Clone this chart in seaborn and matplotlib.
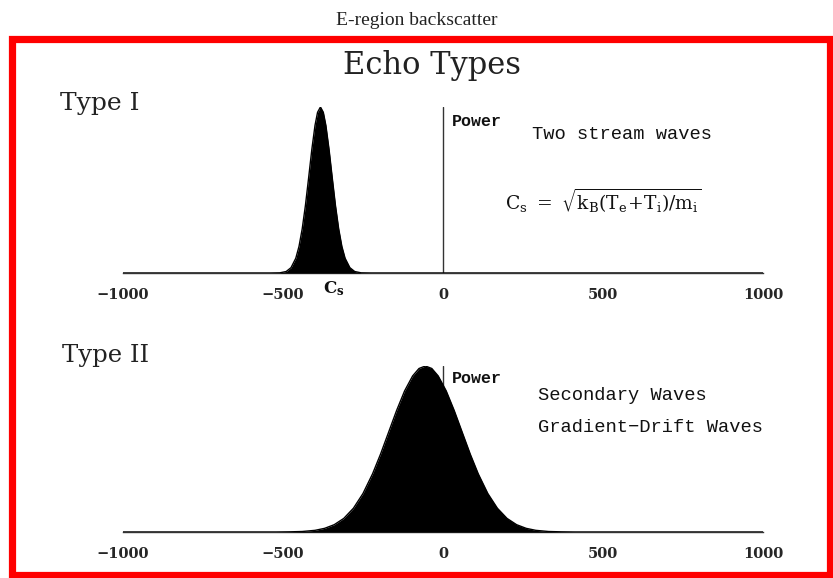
import matplotlib
matplotlib.use("Agg")
import matplotlib.pyplot as plt
from matplotlib.patches import Rectangle
import seaborn as sns

# ---- data (velocity in m/s, normalised power) ----
type1_velocity = [-1000, -540, -510, -490, -475, -460, -450, -440, -430, -420, -410, -400, -392,
                  -383, -374, -366, -356, -346, -336, -326, -316, -306, -291, -276, -256, -226, 1000]
type1_power = [0.0, 0.0, 0.001, 0.009, 0.032, 0.089, 0.160, 0.266, 0.406, 0.572, 0.743, 0.889, 0.968,
               1.0, 0.968, 0.889, 0.743, 0.572, 0.406, 0.266, 0.160, 0.089, 0.032, 0.009, 0.001, 0.0, 0.0]

type2_velocity = [-1000, -520, -480, -440, -400, -370, -340, -310, -280, -250, -220, -195, -170,
                  -145, -120, -95, -75, -55, -35, -15, 10, 35, 60, 85, 110, 140, 170, 200, 230,
                  260, 290, 330, 370, 410, 1000]
type2_power = [0.0, 0.0, 0.001, 0.003, 0.010, 0.022, 0.044, 0.082, 0.143, 0.232, 0.351, 0.470, 0.601,
               0.732, 0.850, 0.940, 0.985, 1.0, 0.985, 0.940, 0.850, 0.732, 0.601, 0.470, 0.351,
               0.232, 0.143, 0.082, 0.044, 0.022, 0.010, 0.003, 0.001, 0.0, 0.0]

major_ticks = [-1000, -500, 0, 500, 1000]
minor_ticks = list(range(-1000, 1001, 100))

title_text = "E-region backscatter"
panel_title = "Echo Types"
type_labels = ["Type I", "Type II"]
power_label = "Power"
type1_notes = ["Two stream waves"]
type2_notes = ["Secondary Waves", "Gradient\u2212Drift Waves"]
cs_label = r"$\mathbf{C_s}$"
cs_formula = r"$\mathrm{C_s}\ =\ \sqrt{\mathrm{k_B(T_e\!+\!T_i)/m_i}}$"

# ---- figure ----
sns.set_style("white")
plt.rcParams["mathtext.fontset"] = "dejavuserif"
plt.rcParams["font.family"] = ["DejaVu Serif"]

W, H = 833, 578
fig = plt.figure(figsize=(W / 100, H / 100), dpi=100)


def fx(x):
    return x / W


def fy(y):
    return 1 - y / H


def make_axes(top_px, base_px):
    ax = fig.add_axes([fx(123), fy(base_px), fx(763) - fx(123), (base_px - top_px) / H])
    ax.set_xlim(-1000, 1000)
    ax.set_ylim(0, 1.0)
    for s in ["top", "left", "right"]:
        ax.spines[s].set_visible(False)
    ax.spines["bottom"].set_linewidth(1.0)
    ax.spines["bottom"].set_color("#333333")
    ax.set_xticks(major_ticks)
    ax.set_xticks(minor_ticks, minor=True)
    ax.set_yticks([])
    ax.tick_params(axis="x", which="major", direction="in", length=4, width=1.0,
                   color="#333333", pad=10.5, labelsize=10.5)
    ax.tick_params(axis="x", which="minor", direction="in", length=2, width=0.8,
                   color="#555555")
    for lab in ax.get_xticklabels():
        lab.set_fontfamily("DejaVu Serif")
        lab.set_fontweight("bold")
    ax.set_xlabel("")
    ax.set_ylabel("")
    ax.patch.set_alpha(0)
    return ax


ax1 = make_axes(107, 273)
ax2 = make_axes(366, 532)

for ax, v, p in [(ax1, type1_velocity, type1_power), (ax2, type2_velocity, type2_power)]:
    ax.axvline(0, ymin=0, ymax=1.0, color="#333333", lw=1.0, zorder=1)
    sns.lineplot(x=v, y=p, ax=ax, color="black", lw=1.0, zorder=3)
    ax.fill_between(v, p, 0, color="black", zorder=3, lw=0)
    ax.set_xlabel("")
    ax.set_ylabel("")

# ---- red frame ----
fig.patches.append(Rectangle((fx(11.5), fy(575)), fx(830) - fx(11.5), (575 - 39) / H,
                             transform=fig.transFigure, fill=False,
                             edgecolor="#ff0000", linewidth=5.2, zorder=10))

# ---- texts ----
fig.text(fx(417), fy(25), title_text, ha="center", va="baseline",
         fontfamily="Liberation Serif", fontsize=14, color="#222222")
fig.text(fx(432), fy(74), panel_title, ha="center", va="baseline",
         fontfamily="DejaVu Serif", fontsize=22, color="#222222")
fig.text(fx(60), fy(110), type_labels[0], ha="left", va="baseline",
         fontfamily="DejaVu Serif", fontsize=18, color="#222222")
fig.text(fx(62), fy(362), type_labels[1], ha="left", va="baseline",
         fontfamily="DejaVu Serif", fontsize=17.5, color="#222222")

fig.text(fx(452), fy(126), power_label, ha="left", va="baseline",
         fontfamily="Liberation Mono", fontweight="bold", fontsize=12, color="#111111")
fig.text(fx(452), fy(383), power_label, ha="left", va="baseline",
         fontfamily="Liberation Mono", fontweight="bold", fontsize=12, color="#111111")

fig.text(fx(532), fy(139), type1_notes[0], ha="left", va="baseline",
         fontfamily="Liberation Mono", fontsize=13.5, color="#111111")
fig.text(fx(505), fy(210), cs_formula, ha="left", va="baseline",
         fontsize=13.5, color="#111111")
fig.text(fx(323), fy(293), cs_label, ha="left", va="baseline",
         fontsize=12, color="#111111")

fig.text(fx(538), fy(400), type2_notes[0], ha="left", va="baseline",
         fontfamily="Liberation Mono", fontsize=13.5, color="#111111")
fig.text(fx(538), fy(432), type2_notes[1], ha="left", va="baseline",
         fontfamily="Liberation Mono", fontsize=13.5, color="#111111")

fig.savefig("out.png", dpi=100)
